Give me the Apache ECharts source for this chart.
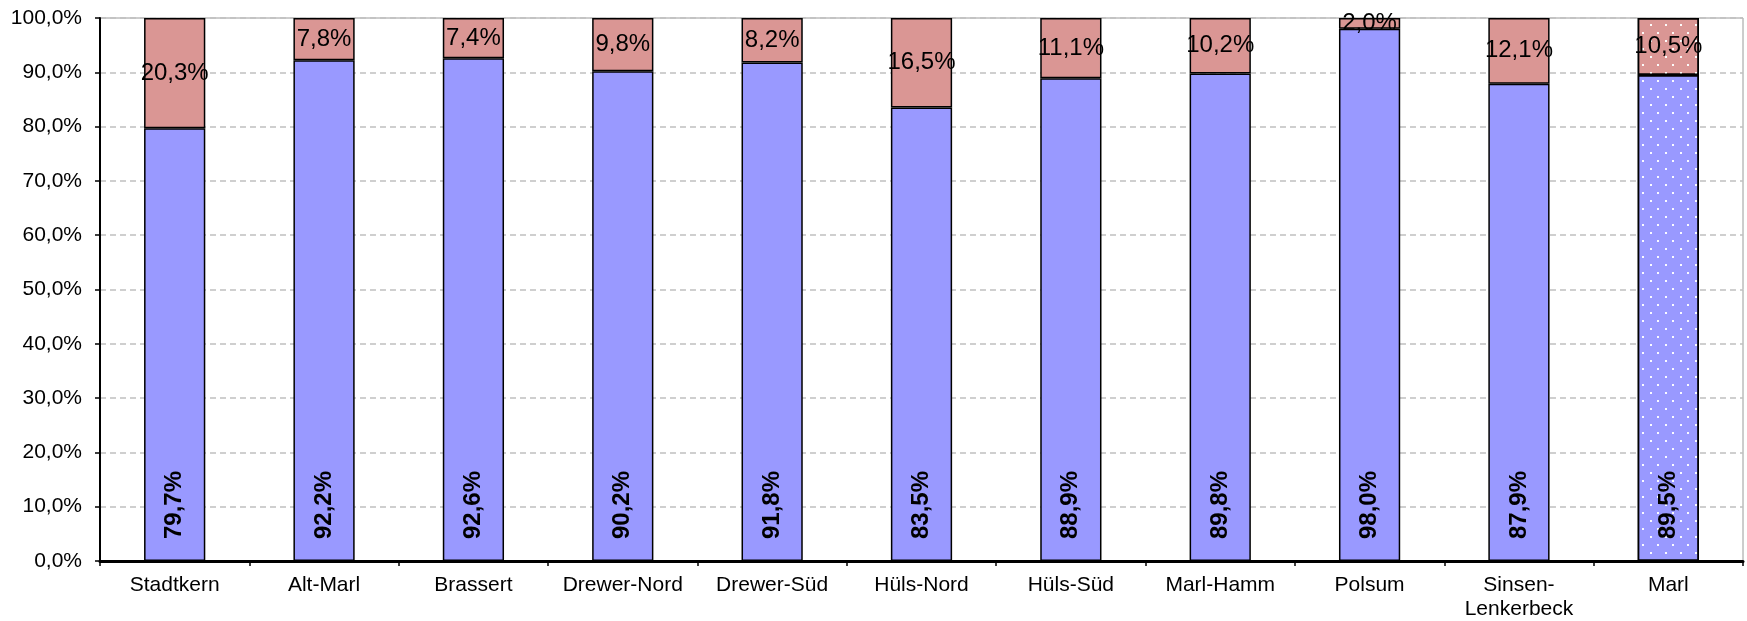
<!DOCTYPE html>
<html>
<head>
<meta charset="utf-8">
<script src="https://cdn.jsdelivr.net/npm/echarts@6/dist/echarts.min.js"></script>
<style>
html,body{margin:0;padding:0;background:#fff;}
#c{width:1747px;height:621px;}
</style>
</head>
<body>
<div id="c"></div>
<script>
const categories = ['Stadtkern','Alt-Marl','Brassert','Drewer-Nord','Drewer-Süd','Hüls-Nord','Hüls-Süd','Marl-Hamm','Polsum','Sinsen-\nLenkerbeck','Marl'];
const bottomValues = [79.7, 92.2, 92.6, 90.2, 91.8, 83.5, 88.9, 89.8, 98.0, 87.9, 89.5];
const topValues = [20.3, 7.8, 7.4, 9.8, 8.2, 16.5, 11.1, 10.2, 2.0, 12.1, 10.5];
const patternedCategory = 'Marl';

const fmt = v => v.toFixed(1).replace('.', ',') + '%';
const FONT = '"Liberation Sans", Arial, sans-serif';
const decal = {
  symbol: 'rect',
  color: 'rgba(255,255,255,0.95)',
  dashArrayX: [[2, 13], [0, 7, 2, 6]],
  dashArrayY: [2, 6],
  symbolSize: 1
};
function mk(vals, color) {
  return vals.map((v, i) => {
    const item = { value: v, itemStyle: { color: color } };
    if (categories[i] === patternedCategory) item.itemStyle.decal = decal;
    return item;
  });
}

const chart = echarts.init(document.getElementById('c'), null, { renderer: 'canvas' });
chart.setOption({
  animation: false,
  backgroundColor: '#fff',
  grid: { left: 100, right: 4, top: 18, bottom: 59, show: true, borderColor: '#9a9a9a', borderWidth: 1, containLabel: false },
  xAxis: {
    type: 'category',
    data: categories,
    axisLine: { lineStyle: { color: '#000', width: 3 } },
    axisTick: { show: true, length: 5, lineStyle: { color: '#000', width: 1.5 } },
    axisLabel: { color: '#000', fontFamily: FONT, fontSize: 21, margin: 12, lineHeight: 24, interval: 0 }
  },
  yAxis: {
    type: 'value',
    min: 0, max: 100, interval: 10,
    axisLine: { show: true, lineStyle: { color: '#000', width: 2 } },
    axisTick: { show: true, length: 5, lineStyle: { color: '#000', width: 1.5 } },
    axisLabel: { color: '#000', fontFamily: FONT, fontSize: 21, margin: 18, formatter: v => v.toFixed(1).replace('.', ',') + '%' },
    splitLine: { show: true, lineStyle: { color: '#c0c0c0', type: [6, 4], width: 1.5 } }
  },
  series: [
    {
      type: 'bar', stack: 'a', barWidth: '41%',
      data: mk(bottomValues, '#9999FF'),
      itemStyle: { borderColor: '#000', borderWidth: 1.5 },
      label: {
        show: true, position: 'insideBottom', rotate: 90, align: 'left', verticalAlign: 'middle',
        distance: 22, color: '#000', fontFamily: FONT, fontSize: 24, fontWeight: 'bold',
        formatter: p => fmt(p.value)
      }
    },
    {
      type: 'bar', stack: 'a', barWidth: '41%',
      data: mk(topValues, '#DA9694'),
      itemStyle: { borderColor: '#000', borderWidth: 1.5 },
      label: {
        show: true, position: 'inside', color: '#000', fontFamily: FONT, fontSize: 24,
        formatter: p => fmt(p.value)
      }
    }
  ]
});
</script>
</body>
</html>
